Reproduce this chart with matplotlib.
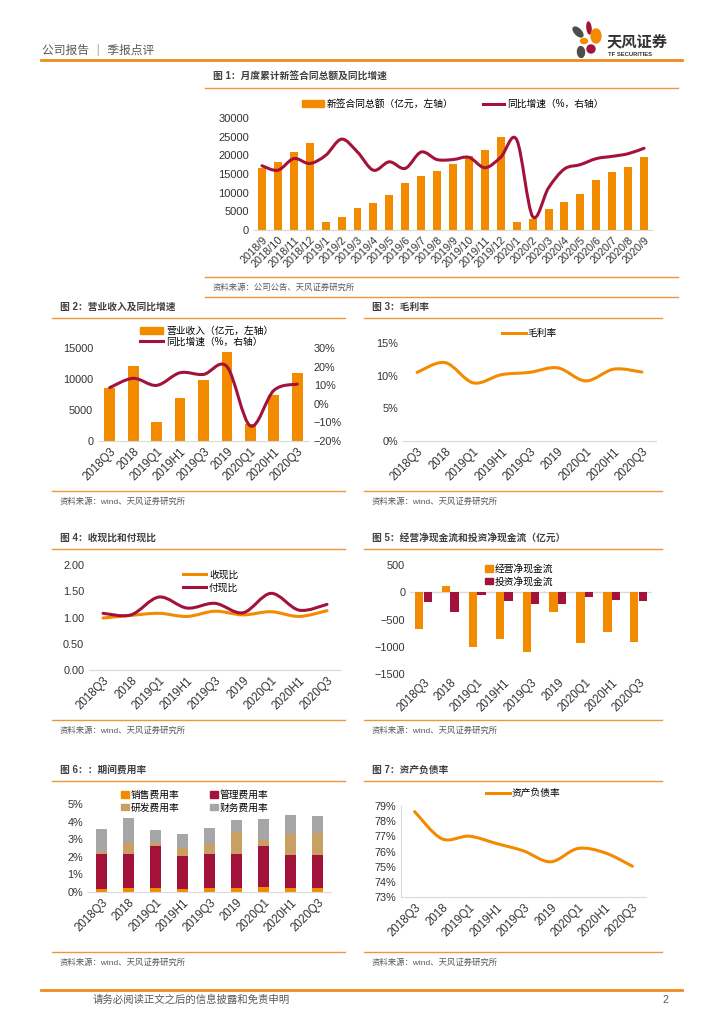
import numpy as np
import matplotlib
matplotlib.use('Agg')
import matplotlib.pyplot as plt
from matplotlib.path import Path
from matplotlib.patches import PathPatch, Ellipse, Patch
from matplotlib.lines import Line2D
from matplotlib.ticker import FuncFormatter

plt.rcParams['font.family'] = ['Liberation Sans', 'Noto Sans CJK SC', 'DejaVu Sans']

## Data
months = ['2018/9', '2018/10', '2018/11', '2018/12', '2019/1', '2019/2', '2019/3', '2019/4',
          '2019/5', '2019/6', '2019/7', '2019/8', '2019/9', '2019/10', '2019/11', '2019/12',
          '2020/1', '2020/2', '2020/3', '2020/4', '2020/5', '2020/6', '2020/7', '2020/8', '2020/9']
contracts = [16700, 18300, 20800, 23300, 2050, 3560, 5970, 7300, 9260, 12550, 14430, 15760,
             17800, 19770, 21550, 24840, 2230, 3030, 5700, 7390, 9620, 13360, 15500, 17000, 19590]
contracts_yoy = [0.059, 0.027, 0.11, 0.075, 0.133, 0.249, 0.157, 0.027, 0.087, 0.04, 0.157, 0.103,
                 0.103, 0.119, 0.045, 0.12, 0.245, -0.303, -0.099, 0.036, 0.067, 0.11, 0.126, 0.145, 0.184]

periods = ['2018Q3', '2018', '2019Q1', '2019H1', '2019Q3', '2019', '2020Q1', '2020H1', '2020Q3']
revenue = [8550, 12100, 3060, 6990, 9890, 14350, 2690, 7370, 10910]
revenue_yoy = [0.087, 0.137, 0.099, 0.167, 0.158, 0.20, -0.119, 0.072, 0.106]
gross_margin = [0.105, 0.120, 0.089, 0.1015, 0.105, 0.112, 0.092, 0.110, 0.1055]
cash_in_ratio = [0.99, 1.04, 1.08, 1.02, 1.12, 1.05, 1.11, 1.02, 1.13]
cash_out_ratio = [1.08, 1.05, 1.39, 1.18, 1.27, 1.09, 1.46, 1.14, 1.25]
op_cf = [-673, 115, -1009, -856, -1101, -367, -936, -728, -905]
inv_cf = [-171, -355, -55, -153, -208, -220, -92, -147, -165]
sales_rate = [0.0019, 0.0023, 0.0023, 0.0019, 0.0023, 0.0023, 0.0029, 0.0023, 0.0023]
admin_rate = [0.0197, 0.0193, 0.0237, 0.0187, 0.0191, 0.0193, 0.0231, 0.0185, 0.0187]
rd_rate = [0.0013, 0.0063, 0.0019, 0.0046, 0.0059, 0.0124, 0.0038, 0.0124, 0.0128]
fin_rate = [0.0128, 0.0141, 0.0071, 0.0076, 0.0090, 0.0068, 0.0118, 0.0103, 0.0091]
debt_ratio = [0.7863, 0.7684, 0.7701, 0.7653, 0.7604, 0.7532, 0.7620, 0.7591, 0.7503]

ORANGE = '#F28B00'
CRIMSON = '#A3123A'
TAN = '#C9A063'
GRAY = '#A6A6A6'
RULE = '#F0973A'
TXT = '#404040'
AX = '#D9D9D9'

W, H = 724, 1024
fig = plt.figure(figsize=(W / 100, H / 100), dpi=100)


def add_ax(x0, y0, x1, y1):
    return fig.add_axes([x0 / W, 1 - y1 / H, (x1 - x0) / W, (y1 - y0) / H])


def hline(y, x0, x1, color=RULE, lw=1.0):
    fig.add_artist(Line2D([x0 / W, x1 / W], [1 - y / H, 1 - y / H], color=color, lw=lw,
                          transform=fig.transFigure))


def ftext(x, y, s, **kw):
    fig.text(x / W, 1 - y / H, s, va='center', **kw)


def smooth(ax, xs, ys, color, lw):
    n = len(xs)
    verts = [(xs[0], ys[0])]
    codes = [Path.MOVETO]
    for i in range(n - 1):
        a, b = max(i - 1, 0), min(i + 2, n - 1)
        c1 = (xs[i] + (xs[i + 1] - xs[a]) / 6, ys[i] + (ys[i + 1] - ys[a]) / 6)
        c2 = (xs[i + 1] - (xs[b] - xs[i]) / 6, ys[i + 1] - (ys[b] - ys[i]) / 6)
        verts += [c1, c2, (xs[i + 1], ys[i + 1])]
        codes += [Path.CURVE4] * 3
    ax.add_patch(PathPatch(Path(verts, codes), fill=False, edgecolor=color, lw=lw,
                           capstyle='round', zorder=3))


def style(ax, labels, fs=8.3, yfs=7.8, rot=45):
    for s in ['top', 'right', 'left']:
        ax.spines[s].set_visible(False)
    ax.spines['bottom'].set_color(AX)
    ax.tick_params(length=0, colors='#333333')
    ax.tick_params(axis='x', labelsize=fs)
    ax.tick_params(axis='y', labelsize=yfs)
    ax.set_xticks(range(len(labels)))
    ax.set_xticklabels(labels, rotation=rot, ha='right', rotation_mode='anchor')
    ax.set_xlim(-0.5, len(labels) - 0.5)


def section(title, x0, x1, ty, src, sy, bottom=None):
    ftext(x0 + 8, ty, title, fontsize=7, color=TXT, fontweight='bold')
    hline(ty + 11, x0, x1)
    hline(sy - 11, x0, x1)
    ftext(x0 + 8, sy, src, fontsize=6, color='#595959')
    if bottom is not None:
        hline(bottom, x0, x1)


pct0 = FuncFormatter(lambda v, p: f'{v * 100:.0f}%'.replace('-', '\u2212'))
neg = FuncFormatter(lambda v, p: f'{v:.0f}'.replace('-', '\u2212'))

## Header
ftext(42, 50, '公司报告 ｜ 季报点评', fontsize=8.5, color='#595959')
hline(60, 41, 682, color='#EE8A1E', lw=2)
for (cx, cy, w, h, ang, c) in [(578, 32, 11, 7, -30, '#4D4D4D'), (589, 28, 4, 12, 10, CRIMSON),
                               (596, 36, 10, 14, -35, ORANGE), (584, 41, 7, 5, 0, ORANGE),
                               (591, 49, 8, 8, 0, CRIMSON), (581, 52, 7, 11, 20, '#4D4D4D')]:
    fig.add_artist(Ellipse((cx / W, 1 - cy / H), w / W, h / H, angle=ang, color=c,
                           transform=fig.transFigure))
ftext(607, 42, '天风证券', fontsize=11, color='#333333', fontweight='bold')
ftext(608, 55, 'TF SECURITIES', fontsize=4.2, color='#333333', fontweight='bold')

## Figure 1
section('图 1：月度累计新签合同总额及同比增速', 205, 678, 77, '资料来源：公司公告、天风证券研究所', 288, 297)
ax1 = add_ax(254, 118, 652, 230)
x = np.arange(len(months))
ax1.bar(x, contracts, width=0.5, color=ORANGE, zorder=2)
style(ax1, months, fs=7.8, yfs=8)
ax1.set_ylim(0, 30000)
ax1.set_yticks(range(0, 30001, 5000))
ax1b = ax1.twinx()
ax1b.set_ylim(-0.4, 0.4)
ax1b.set_yticks([])
for s in ax1b.spines.values():
    s.set_visible(False)
smooth(ax1b, x, contracts_yoy, CRIMSON, 2.2)
ax1.legend([Patch(color=ORANGE), Line2D([], [], color=CRIMSON, lw=2.2)],
           ['新签合同总额（亿元，左轴）', '同比增速（%，右轴）'], ncol=2, frameon=False,
           fontsize=7, loc='lower center', bbox_to_anchor=(0.5, 1.0), handlelength=2.2,
           columnspacing=3, handletextpad=0.3)

## Figure 2
section('图 2：营业收入及同比增速', 52, 345, 307, '资料来源：wind、天风证券研究所', 502)
ax2 = add_ax(98, 348, 309, 441)
x = np.arange(len(periods))
ax2.bar(x, revenue, width=0.46, color=ORANGE, zorder=2)
style(ax2, periods)
ax2.set_ylim(0, 15000)
ax2.set_yticks(range(0, 15001, 5000))
ax2b = ax2.twinx()
ax2b.set_ylim(-0.2, 0.3)
ax2b.set_yticks(np.arange(-0.2, 0.31, 0.1))
ax2b.yaxis.set_major_formatter(pct0)
ax2b.tick_params(length=0, labelsize=7.8, colors='#333333')
for s in ax2b.spines.values():
    s.set_visible(False)
smooth(ax2b, x, revenue_yoy, CRIMSON, 2.2)
fig.legend([Patch(color=ORANGE), Line2D([], [], color=CRIMSON, lw=2.2)],
           ['营业收入（亿元，左轴）', '同比增速（%，右轴）'], frameon=False, fontsize=7,
           loc='center left', bbox_to_anchor=(131 / W, 1 - 336 / H), handlelength=2.4,
           handletextpad=0.3, labelspacing=0.1)

## Figure 3
section('图 3：毛利率', 364, 662, 307, '资料来源：wind、天风证券研究所', 502)
ax3 = add_ax(403, 343, 656, 441)
style(ax3, periods)
ax3.set_ylim(0, 0.15)
ax3.set_yticks([0, 0.05, 0.10, 0.15])
ax3.yaxis.set_major_formatter(pct0)
smooth(ax3, x, gross_margin, ORANGE, 2.2)
ax3.legend([Line2D([], [], color=ORANGE, lw=2.2)], ['毛利率'], frameon=False, fontsize=7,
           loc='center', bbox_to_anchor=(0.5, 1.1), handlelength=2.4, handletextpad=0.2)

## Figure 4
section('图 4：收现比和付现比', 52, 345, 538, '资料来源：wind、天风证券研究所', 731)
ax4 = add_ax(89, 565, 341, 670)
style(ax4, periods)
ax4.set_ylim(0, 2)
ax4.set_yticks([0, 0.5, 1.0, 1.5, 2.0])
ax4.yaxis.set_major_formatter(FuncFormatter(lambda v, p: f'{v:.2f}'))
smooth(ax4, x, cash_in_ratio, ORANGE, 2.2)
smooth(ax4, x, cash_out_ratio, CRIMSON, 2.2)
fig.legend([Line2D([], [], color=ORANGE, lw=2.2), Line2D([], [], color=CRIMSON, lw=2.2)],
           ['收现比', '付现比'], frameon=False, fontsize=7, loc='center left',
           bbox_to_anchor=(174 / W, 1 - 581 / H), handlelength=2.4, handletextpad=0.3,
           labelspacing=0.3)

## Figure 5
section('图 5：经营净现金流和投资净现金流（亿元）', 364, 662, 538, '资料来源：wind、天风证券研究所', 731)
ax5 = add_ax(410, 565, 652, 674)
ax5.bar(x - 0.16, op_cf, width=0.31, color=ORANGE, zorder=2)
ax5.bar(x + 0.16, inv_cf, width=0.31, color=CRIMSON, zorder=2)
style(ax5, periods)
ax5.spines['bottom'].set_visible(False)
ax5.axhline(0, color=AX, lw=1, zorder=1)
ax5.set_ylim(-1500, 500)
ax5.set_yticks([-1500, -1000, -500, 0, 500])
ax5.yaxis.set_major_formatter(neg)
ax5.xaxis.set_tick_params(pad=2)
fig.legend([Patch(color=ORANGE), Patch(color=CRIMSON)], ['经营净现金流', '投资净现金流'],
           frameon=False, fontsize=7, loc='center left', bbox_to_anchor=(476 / W, 1 - 575 / H),
           handlelength=0.8, handletextpad=0.2, labelspacing=0.3)

## Figure 6
section('图 6：：期间费用率', 52, 345, 770, '资料来源：wind、天风证券研究所', 963)
ax6 = add_ax(88, 804, 331, 892)
b1 = np.array(sales_rate)
b2 = b1 + np.array(admin_rate)
b3 = b2 + np.array(rd_rate)
ax6.bar(x, sales_rate, width=0.42, color=ORANGE, zorder=2)
ax6.bar(x, admin_rate, width=0.42, bottom=b1, color=CRIMSON, zorder=2)
ax6.bar(x, rd_rate, width=0.42, bottom=b2, color=TAN, zorder=2)
ax6.bar(x, fin_rate, width=0.42, bottom=b3, color=GRAY, zorder=2)
style(ax6, periods)
ax6.set_ylim(0, 0.05)
ax6.set_yticks(np.arange(0, 0.051, 0.01))
ax6.yaxis.set_major_formatter(pct0)
fig.legend([Patch(color=ORANGE), Patch(color=TAN), Patch(color=CRIMSON), Patch(color=GRAY)],
           ['销售费用率', '研发费用率', '管理费用率', '财务费用率'], ncol=2, frameon=False,
           fontsize=7, loc='center left', bbox_to_anchor=(112 / W, 1 - 801 / H),
           handlelength=0.8, handletextpad=0.2, labelspacing=0.3, columnspacing=3.2)

## Figure 7
section('图 7：资产负债率', 364, 662, 770, '资料来源：wind、天风证券研究所', 963)
ax7 = add_ax(401, 806, 646, 897)
style(ax7, periods)
ax7.spines['left'].set_visible(True)
ax7.spines['left'].set_color(AX)
ax7.set_ylim(0.73, 0.79)
ax7.set_yticks(np.arange(0.73, 0.7901, 0.01))
ax7.yaxis.set_major_formatter(pct0)
smooth(ax7, x, debt_ratio, ORANGE, 2.2)
ax7.legend([Line2D([], [], color=ORANGE, lw=2.2)], ['资产负债率'], frameon=False, fontsize=7,
           loc='center', bbox_to_anchor=(0.5, 1.14), handlelength=2.4, handletextpad=0.2)

## Footer
hline(990, 41, 682, color='#EE8A1E', lw=2)
ftext(93, 1000, '请务必阅读正文之后的信息披露和免责申明', fontsize=7.5, color='#595959')
ftext(662, 1000, '2', fontsize=7.5, color='#595959')

plt.savefig('out.png', dpi=100)
